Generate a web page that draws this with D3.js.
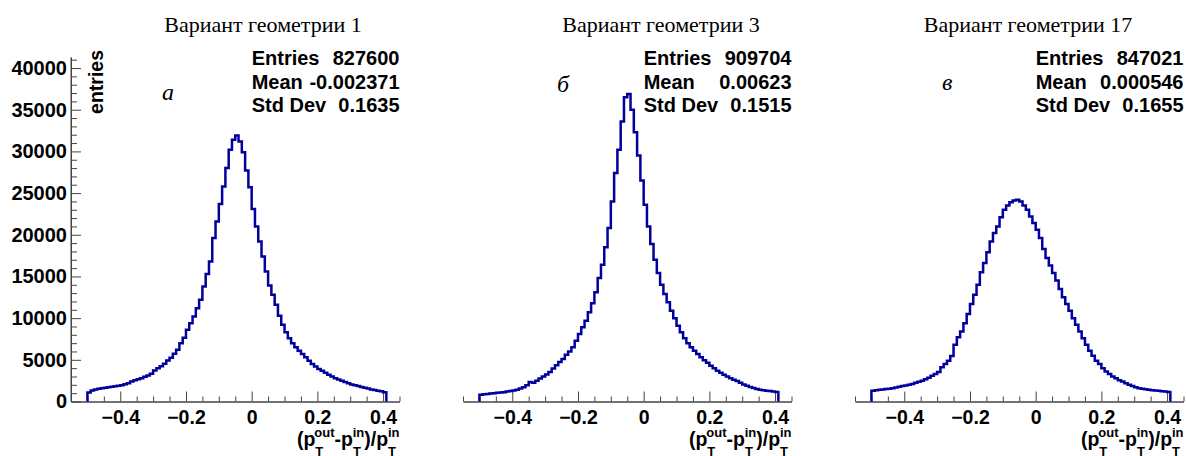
<!DOCTYPE html>
<html>
<head>
<meta charset="utf-8">
<script src="https://cdn.jsdelivr.net/npm/d3@7"></script>
<style>
  body { margin: 0; background: #fff; }
  svg { display: block; }
</style>
</head>
<body>
<div id="chart"></div>
<script>
// histogram data: 91 bins of width 0.01 starting at -0.50
var binLow = -0.5,
    binWidth = 0.01;

var titles = ["Вариант геометрии 1", "Вариант геометрии 3", "Вариант геометрии 17"];
var letters = ["а", "б", "в"];
var entries = ["827600", "909704", "847021"];
var means = ["-0.002371", "0.00623", "0.000546"];
var stdDevs = ["0.1635", "0.1515", "0.1655"];

var counts1 = [1080, 1320, 1440, 1520, 1600, 1640, 1720, 1760, 1840, 1880,
    1960, 2080, 2200, 2400, 2560, 2680, 2800, 2960, 3120, 3320,
    3720, 4000, 4240, 4520, 4920, 5240, 5720, 6200, 7000, 7640,
    8600, 9400, 10200, 11200, 12200, 13800, 15300, 16800, 19600, 21600,
    23700, 25800, 28000, 30200, 31400, 31900, 31200, 29900, 27700, 25700,
    23100, 21000, 19200, 17400, 15600, 13900, 12800, 11600, 10300, 9200,
    8300, 7600, 7000, 6500, 6100, 5700, 5300, 4900, 4500, 4200,
    3900, 3700, 3450, 3200, 3000, 2800, 2650, 2500, 2350, 2200,
    2050, 1950, 1850, 1750, 1650, 1550, 1450, 1380, 1300, 1220,
    1100];

var counts2 = [800, 880, 900, 950, 1000, 1050, 1080, 1120, 1200, 1260,
    1320, 1420, 1560, 1700, 1950, 2350, 2250, 2500, 2750, 3000,
    3250, 3550, 3950, 4350, 4750, 5100, 5600, 6000, 6500, 7300,
    8100, 8900, 9700, 10700, 11800, 13100, 14800, 16400, 18500, 20800,
    24000, 27400, 30200, 33600, 36500, 36900, 35000, 32300, 29500, 26500,
    23600, 21000, 18900, 17000, 15400, 14000, 12900, 11900, 10900, 10000,
    9100, 8300, 7600, 7000, 6500, 6100, 5700, 5300, 4950, 4650,
    4300, 4000, 3700, 3450, 3200, 3000, 2800, 2600, 2450, 2250,
    2050, 1900, 1750, 1620, 1500, 1420, 1350, 1300, 1250, 1200,
    1150];

var counts3 = [1280, 1350, 1400, 1450, 1500, 1540, 1600, 1680, 1780, 1850,
    1920, 2000, 2100, 2250, 2380, 2500, 2660, 2850, 3080, 3300,
    3550, 4100, 4500, 4900, 5450, 6800, 7700, 8400, 9400, 10500,
    11700, 12800, 14000, 15500, 16600, 17900, 19200, 20200, 21000, 22100,
    23000, 23500, 23900, 24100, 24200, 24000, 23500, 23000, 22200, 21400,
    20600, 19600, 18300, 17200, 16300, 15400, 14500, 13500, 12500, 11700,
    10900, 10000, 9200, 8400, 7600, 6800, 6100, 5500, 4900, 4500,
    4000, 3600, 3300, 3000, 2800, 2550, 2400, 2200, 2000, 1850,
    1700, 1600, 1520, 1460, 1400, 1360, 1320, 1280, 1240, 1200,
    1150];

var xTicks = [-0.4, -0.2, 0, 0.2, 0.4];
var yTicks = [0, 5000, 10000, 15000, 20000, 25000, 30000, 35000, 40000];

var allCounts = [counts1, counts2, counts3];

var width = 1186,
    height = 456,
    panelStep = 392,
    firstLeft = 71,
    plotWidth = 328.5,
    titleCenters = [263, 661, 1028],
    letterPos = [[162, 100], [557, 92], [942, 90]];

var axisFont = "'Liberation Sans', Arial, Helvetica, sans-serif";
var serifFont = "'Liberation Serif', 'Times New Roman', serif";
var lineColor = "#00009c";

var svg = d3.select("#chart")
    .append("svg")
    .attr("width", width)
    .attr("height", height);

var y = d3.scaleLinear()
    .domain([0, 41300])
    .range([401.5, 57.2]);

var minorX = d3.range(-55, 46, 5).map(function(d) { return d / 100; })
    .filter(function(d) { return xTicks.indexOf(d) < 0; });
var minorY = d3.range(0, 41001, 1000)
    .filter(function(d) { return d % 5000 !== 0; });

allCounts.forEach(function(counts, p) {
    var left = firstLeft + p * panelStep;
    var x = d3.scaleLinear()
        .domain([-0.55, 0.45])
        .range([left, left + plotWidth]);

    var g = svg.append("g");

    // x axis
    g.append("g")
        .attr("transform", "translate(0," + y(0) + ")")
        .call(d3.axisBottom(x)
            .tickValues(minorX)
            .tickSizeInner(-5)
            .tickSizeOuter(0)
            .tickFormat(""));
    var xa = g.append("g")
        .attr("transform", "translate(0," + y(0) + ")")
        .call(d3.axisBottom(x)
            .tickValues(xTicks)
            .tickSizeInner(-10)
            .tickSizeOuter(0)
            .tickPadding(9)
            .tickFormat(d3.format("")));
    xa.selectAll("text")
        .style("font-family", axisFont)
        .style("font-weight", "bold")
        .style("font-size", "19.5px")
        .attr("fill", "#000");

    // y axis only on the first panel
    if (p === 0) {
        g.append("g")
            .attr("transform", "translate(" + left + ",0)")
            .call(d3.axisLeft(y)
                .tickValues(minorY)
                .tickSizeInner(-6)
                .tickSizeOuter(0)
                .tickFormat(""));
        var ya = g.append("g")
            .attr("transform", "translate(" + left + ",0)")
            .call(d3.axisLeft(y)
                .tickValues(yTicks)
                .tickSizeInner(-10)
                .tickSizeOuter(0)
                .tickPadding(4)
                .tickFormat(d3.format("d")));
        ya.selectAll("text")
            .style("font-family", axisFont)
            .style("font-weight", "bold")
            .style("font-size", "20px")
            .attr("fill", "#000");
        ya.select(".domain").attr("d", "M0," + y(41300) + "V" + y(0));

        g.append("text")
            .attr("transform", "translate(" + (left + 31.5) + "," + 50 + ") rotate(-90)")
            .attr("text-anchor", "end")
            .style("font-family", axisFont)
            .style("font-weight", "bold")
            .style("font-size", "19.5px")
            .text("entries");
    }

    g.selectAll(".domain, .tick line")
        .attr("stroke", "#444")
        .attr("stroke-width", 1);

    // histogram outline
    var pts = [[binLow, 0]];
    counts.forEach(function(v, i) {
        var lo = binLow + i * binWidth;
        pts.push([lo, v]);
        pts.push([lo + binWidth, v]);
    });
    pts.push([binLow + counts.length * binWidth, 0]);

    var line = d3.line()
        .x(function(d) { return x(d[0]); })
        .y(function(d) { return y(d[1]); });

    g.append("path")
        .datum(pts)
        .attr("d", line)
        .attr("fill", "none")
        .attr("stroke", lineColor)
        .attr("stroke-width", 2.5)
        .attr("stroke-linejoin", "miter");

    // title
    svg.append("text")
        .attr("x", titleCenters[p])
        .attr("y", 32)
        .attr("text-anchor", "middle")
        .style("font-family", serifFont)
        .style("font-size", "22px")
        .text(titles[p]);

    // panel letter
    svg.append("text")
        .attr("x", letterPos[p][0])
        .attr("y", letterPos[p][1])
        .style("font-family", serifFont)
        .style("font-style", "italic")
        .style("font-size", "24px")
        .text(letters[p]);

    // stats
    var statLeft = x(0),
        statRight = x(0.45);
    var rows = [["Entries", entries[p]], ["Mean", means[p]], ["Std Dev", stdDevs[p]]];
    rows.forEach(function(r, k) {
        var yy = 65 + k * 23.7;
        g.append("text")
            .attr("x", statLeft)
            .attr("y", yy)
            .style("font-family", axisFont)
            .style("font-weight", "bold")
            .style("font-size", "20px")
            .text(r[0]);
        g.append("text")
            .attr("x", statRight)
            .attr("y", yy)
            .attr("text-anchor", "end")
            .style("font-family", axisFont)
            .style("font-weight", "bold")
            .style("font-size", "20px")
            .text(r[1]);
    });

    // x axis title: (p_T^out - p_T^in)/p_T^in
    var t = g.append("text")
        .attr("y", 445.5)
        .style("font-family", axisFont)
        .style("font-weight", "bold")
        .style("font-size", "19.5px");
    function piece(txt, size, dx, dy) {
        var s = t.append("tspan")
            .style("font-size", size + "px")
            .attr("dx", dx)
            .attr("dy", dy)
            .text(txt);
        return s.node().getComputedTextLength();
    }
    function subsup(sup) {
        var w = piece("T", 13, 0, 10);
        piece(sup, 13, -w, -19);
    }
    piece("(p", 19.5, 0, 0);
    subsup("out");
    piece("-p", 19.5, 0, 9);
    subsup("in");
    piece(")/p", 19.5, 0, 9);
    subsup("in");
    var bb = t.node().getBBox();
    t.attr("x", statRight - bb.width);
});
</script>
</body>
</html>
